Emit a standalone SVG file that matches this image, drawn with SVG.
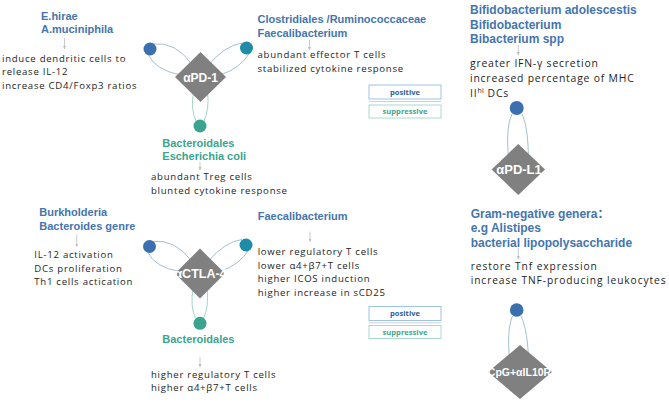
<svg xmlns="http://www.w3.org/2000/svg" width="669" height="402" viewBox="0 0 669 402">
<defs>
<style>
.h{font-family:"Liberation Sans",Arial,"Noto Sans CJK SC",sans-serif;font-weight:bold;font-size:11px;fill:#4475af}
.hr{font-size:12px}
.g{fill:#3aa58e}
.b{font-family:"Open Sans","Noto Sans",sans-serif;font-size:9.6px;letter-spacing:0.73px;fill:#1e1e1e}
.br{font-size:10.4px;letter-spacing:0.8px}
.br2{font-size:10.2px;letter-spacing:0.92px}
.dm{fill:#808080}
.dt{font-family:"Liberation Sans",Arial,sans-serif;font-weight:bold;fill:#fff;text-anchor:middle}
.c1{fill:#3b6fb0}
.c2{fill:#1e8ca6}
.c3{fill:#3aa48e}
.ln{fill:none;stroke:#a6bfd0;stroke-width:1}
.lt{fill:none;stroke:#a3d5c8;stroke-width:1}
.ar{stroke:#bdbdbd;stroke-width:0.8;marker-end:url(#ah)}
.lp{fill:#fff;stroke:#9dc3e6;stroke-width:1}
.ls{fill:#fff;stroke:#a8dacd;stroke-width:1}
.sep{stroke:#c9d2da;stroke-width:1}
.lpt{font-family:"Open Sans",sans-serif;font-weight:bold;font-size:7.6px;fill:#2f5f9c;text-anchor:middle}
.lst{font-family:"Open Sans",sans-serif;font-weight:bold;font-size:7.6px;fill:#45a58a;text-anchor:middle}
</style>
<marker id="ah" markerWidth="4" markerHeight="4" refX="3" refY="2" orient="auto" markerUnits="userSpaceOnUse"><path d="M0,0.5 L3.5,2 L0,3.5 z" fill="#bdbdbd"/></marker>
</defs>
<rect width="669" height="402" fill="#fff"/>

<g id="connectors">
  <g transform="translate(200.5,77)">
    <path class="ln" d="M-48,-33 Q-25,-36 -8,-12"/>
    <path class="ln" d="M-52,-22 Q-45,-7 -20,-2"/>
    <path class="ln" d="M42,-34 Q25,-32 8,-12"/>
    <path class="ln" d="M49,-24 Q40,-9 20,-2"/>
    <path class="lt" d="M-4.5,44 Q-10,32 -7,15"/>
    <path class="lt" d="M3.5,44 Q9,32 7,15"/>
  </g>
  <g transform="translate(200,273.5)">
    <path class="ln" d="M-48,-32 Q-25,-35 -8,-12"/>
    <path class="ln" d="M-52,-21 Q-45,-6 -20,-2"/>
    <path class="ln" d="M42,-34 Q25,-32 8,-12"/>
    <path class="ln" d="M49,-24 Q40,-9 20,-2"/>
    <path class="lt" d="M-4.5,45 Q-10,33 -7,15"/>
    <path class="lt" d="M3.5,45 Q9,33 7,15"/>
  </g>
  <path class="ln" d="M512,114 C507,125 507,140 508.5,158"/>
  <path class="ln" d="M522,114 C527,125 528,140 528.5,158"/>
  <path class="ln" d="M512.5,316 C508,327 508,342 509.5,360"/>
  <path class="ln" d="M521,316 C526,327 528,342 528.5,360"/>
  <line class="ar" x1="64.5" y1="38" x2="64.5" y2="49"/>
  <line class="ar" x1="309.5" y1="40" x2="309.5" y2="50"/>
  <line class="ar" x1="200" y1="162" x2="200" y2="170"/>
  <line class="ar" x1="518.3" y1="45" x2="518.3" y2="55"/>
  <line class="ar" x1="76.7" y1="235" x2="76.7" y2="246.5"/>
  <line class="ar" x1="310" y1="231.5" x2="310" y2="241.5"/>
  <line class="ar" x1="200" y1="357" x2="200" y2="367"/>
  <line class="ar" x1="518.3" y1="248" x2="518.3" y2="259"/>
</g>

<g id="pd1">
  <polygon class="dm" points="200.5,52 226,77 200.5,102 175,77"/>
  <text class="dt" x="200.5" y="81.5" font-size="12">αPD-1</text>
</g>
<g id="pd1-left"><circle class="c1" cx="150" cy="49" r="6.5"/></g>
<g id="pd1-right"><circle class="c2" cx="246.5" cy="48" r="6.5"/></g>
<g id="pd1-bottom"><circle class="c3" cx="200" cy="126" r="6.5"/></g>

<g id="ctla4">
  <polygon class="dm" points="200,248.5 225,273.5 200,298.5 175,273.5"/>
  <text class="dt" x="200.5" y="277.8" font-size="12.5">αCTLA-4</text>
</g>
<g id="ctla4-left"><circle class="c1" cx="149.5" cy="246.5" r="6.5"/></g>
<g id="ctla4-right"><circle class="c2" cx="246" cy="245" r="6.5"/></g>
<g id="ctla4-bottom"><circle class="c3" cx="200" cy="323.3" r="6.5"/></g>

<g id="pdl1">
  <polygon class="dm" points="518.3,144 545,169.5 518.3,195 491.6,169.5"/>
  <text class="dt" x="519" y="174.3" font-size="13">αPD-L1</text>
</g>
<g id="pdl1-top"><circle class="c1" cx="516.7" cy="108" r="7"/></g>

<g id="cpg">
  <polygon class="dm" points="520,345 552,372 520,399 488,372"/>
  <text class="dt" x="519.5" y="376" font-size="10.5">CpG+αIL10R</text>
</g>
<g id="cpg-top"><circle class="c1" cx="516.7" cy="310" r="6.8"/></g>

<g id="t-ehirae">
  <text class="h" x="41" y="20">E.hirae</text>
  <text class="h" x="41" y="33">A.muciniphila</text>
  <text class="b" x="2" y="62">induce dendritic cells to</text>
  <text class="b" x="2" y="75.3">release IL-12</text>
  <text class="b" x="2" y="88.6">increase CD4/Foxp3 ratios</text>
</g>
<g id="t-clostridiales">
  <text class="h" x="257.5" y="23">Clostridiales /Ruminococcaceae</text>
  <text class="h" x="257.5" y="36.5">Faecalibacterium</text>
  <text class="b" x="257.5" y="58.3">abundant effector T cells</text>
  <text class="b" x="257.5" y="71.7">stabilized cytokine response</text>
</g>
<g id="t-bacteroidales1">
  <text class="h g" x="162.3" y="146.7">Bacteroidales</text>
  <text class="h g" x="162.3" y="160">Escherichia coli</text>
  <text class="b" x="151" y="180">abundant Treg cells</text>
  <text class="b" x="151" y="193.8">blunted cytokine response</text>
</g>
<g id="legend1">
  <rect class="lp" x="369" y="85" width="72" height="14"/>
  <line class="sep" x1="369" y1="101.5" x2="441" y2="101.5"/>
  <rect class="ls" x="369" y="105" width="72" height="13"/>
  <text class="lpt" x="405" y="94.8">positive</text>
  <text class="lst" x="405" y="114.3">suppressive</text>
</g>
<g id="t-bifido">
  <text class="h hr" x="470" y="14.3">Bifidobacterium adolescestis</text>
  <text class="h hr" x="470" y="28.8">Bifidobacterium</text>
  <text class="h hr" x="470" y="43.3">Bibacterium spp</text>
  <text class="b br" x="470" y="67.3">greater IFN-γ secretion</text>
  <text class="b br" x="470" y="82">increased percentage of MHC</text>
  <text class="b br" x="470" y="96.7">II<tspan font-size="7" dy="-3.5" letter-spacing="0.3">hi</tspan><tspan dy="3.5"> DCs</tspan></text>
</g>
<g id="t-burkholderia">
  <text class="h" x="39.3" y="216">Burkholderia</text>
  <text class="h" x="39.3" y="230">Bacteroides genre</text>
  <text class="b" x="34.3" y="258.3">IL-12 activation</text>
  <text class="b" x="34.3" y="271.7">DCs proliferation</text>
  <text class="b" x="34.3" y="285.1">Th1 cells actication</text>
</g>
<g id="t-faecali2">
  <text class="h" x="257.7" y="220">Faecalibacterium</text>
  <text class="b" x="257.7" y="255">lower regulatory T cells</text>
  <text class="b" x="257.7" y="268.5">lower α4+β7+T cells</text>
  <text class="b" x="257.7" y="282">higher ICOS induction</text>
  <text class="b" x="257.7" y="295.5">higher increase in sCD25</text>
</g>
<g id="t-bacteroidales2">
  <text class="h g" x="162.3" y="343.3">Bacteroidales</text>
  <text class="b" x="151" y="377.7">higher regulatory T cells</text>
  <text class="b" x="151" y="391.1">higher α4+β7+T cells</text>
</g>
<g id="legend2">
  <rect class="lp" x="369" y="306.5" width="72" height="14"/>
  <line class="sep" x1="369" y1="322.8" x2="441" y2="322.8"/>
  <rect class="ls" x="369" y="325.5" width="72" height="13"/>
  <text class="lpt" x="405" y="316.3">positive</text>
  <text class="lst" x="405" y="334.8">suppressive</text>
</g>
<g id="t-gram">
  <text class="h hr" x="470.7" y="218.3">Gram-negative genera：</text>
  <text class="h hr" x="470.7" y="232.3">e.g Alistipes</text>
  <text class="h hr" x="470.7" y="246.7">bacterial lipopolysaccharide</text>
  <text class="b br2" x="470.7" y="269.5">restore Tnf expression</text>
  <text class="b br2" x="470.7" y="283.5">increase TNF-producing leukocytes</text>
</g>
</svg>
